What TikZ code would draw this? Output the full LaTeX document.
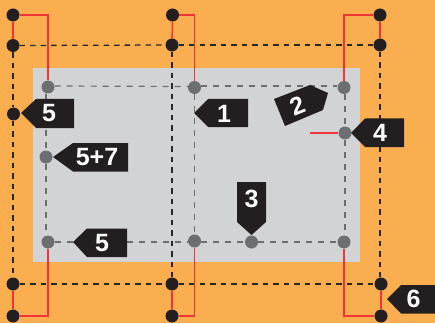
\documentclass[tikz,border=0pt]{standalone}
\usepackage{fontspec}
\setmainfont{Liberation Sans}
\definecolor{bgorange}{HTML}{FBAE4F}
\definecolor{panel}{HTML}{D1D3D4}
\definecolor{ink}{HTML}{231F20}
\definecolor{pin}{HTML}{6D6E71}
\definecolor{wire}{HTML}{EF3535}
\tikzset{
  blackdot/.style={circle,fill=ink,inner sep=0pt,minimum size=13pt},
  greydot/.style={circle,fill=pin,inner sep=0pt,minimum size=13pt},
  wireline/.style={draw=wire,line width=1.4pt},
  darkdash/.style={draw=ink!90!pin,line width=1.3pt,dash pattern=on 5.5pt off 5pt},
  greydash/.style={draw=pin,line width=1.2pt,dash pattern=on 6pt off 6pt},
  tag/.style={fill=ink,draw=none},
  taglabel/.style={text=white,font=\bfseries\fontsize{25}{25}\selectfont,inner sep=0pt}
}
\begin{document}
\begin{tikzpicture}[x=1pt,y=-1pt]
\useasboundingbox (0,0) rectangle (435,323);
\fill[bgorange] (0,0) rectangle (435,323);
\fill[panel] (33,68) rectangle (360,262);
% terminals
\node[blackdot] (a1) at (13,15) {};
\node[blackdot] (a2) at (13,45.5) {};
\node[blackdot] (a3) at (13.5,114) {};
\node[blackdot] (a4) at (13,284) {};
\node[blackdot] (a5) at (13,316) {};
\node[blackdot] (b1) at (172.5,15) {};
\node[blackdot] (b2) at (172,45) {};
\node[blackdot] (b4) at (172,284) {};
\node[blackdot] (b5) at (172,316) {};
\node[blackdot] (c1) at (380,15) {};
\node[blackdot] (c2) at (380,45) {};
\node[blackdot] (c4) at (381,284) {};
\node[blackdot] (c5) at (381,316) {};
\node[greydot] (p1) at (48,87) {};
\node[greydot] (p2) at (46,157) {};
\node[greydot] (p3) at (48,242) {};
\node[greydot] (q1) at (194.5,87.5) {};
\node[greydot] (q3) at (194.5,241) {};
\node[greydot] (r1) at (344,87.5) {};
\node[greydot] (r2) at (345,133) {};
\node[greydot] (r3) at (344,242) {};
\node[greydot] (s3) at (251.5,242) {};
\coordinate (stub) at (310,133);
% dark dashed lines
\path[darkdash] (a2.east) -- (b2.west);
\path[darkdash] (b2.east) -- (c2.west);
\path[darkdash] (a4.east) -- (b4.west);
\path[darkdash] (b4.east) -- (c4.west);
\path[darkdash] (a2.south) -- (a2 |- a3.north);
\path[darkdash] (a4 |- a3.south) -- (a4.north);
\path[darkdash] (b2.south) -- (b4.north);
\path[darkdash] (c2.south) -- (c2 |- c4.north);
% grey dashed lines
\path[greydash] ([yshift=1pt]p1.east) -- ([yshift=1pt]q1.west);
\path[greydash] ([yshift=1.5pt]q1.east) -- ([yshift=1.5pt]r1.west);
\path[greydash] (r2 |- r1.south) -- (r2.north);
\path[greydash] (r2.south) -- (r2 |- r3.north);
\path[greydash] (p3.east) -- (p3.east -| q3.west);
\path[greydash] (q3.east |- s3) -- (s3.west);
\path[greydash] (s3.east) -- (r3.west);
\path[greydash] (p2 |- p1.south) -- (p2.north);
\path[greydash] (p2.south) -- (p2 |- p3.north);
\path[greydash] (q1.south) -- (q3.north);
% red wires
\path[wireline] (a1) -- (a2);
\path[wireline] (a1) -| (p1);
\path[wireline] (b1) -- (b2);
\path[wireline] (b1) -| (q1);
\path[wireline] (c1) -- (c2);
\path[wireline] (c1) -| (r1);
\path[wireline] (a4) -- (a5);
\path[wireline] (a5) -| (p3);
\path[wireline] (b4) -- (b5);
\path[wireline] (b5) -| (q3);
\path[wireline] (c4) -- (c5);
\path[wireline] (c5) -| (r3);
\path[wireline] (stub) -- (r2);
% callouts
\fill[tag] (21,113) -- (36,99) -- (74,99) -- (74,128) -- (36,128) -- cycle;
\node[taglabel] (t5a) at (49,113.5) {5};
\fill[tag] (53,157) -- (73,143) -- (128,143) -- (128,171.5) -- (73,171.5) -- cycle;
\node[taglabel] (t57) at (97,157) {5+7};
\fill[tag] (194,113) -- (208,99) -- (248,99) -- (248,127) -- (208,127) -- cycle;
\node[taglabel] (t1) at (224,113.5) {1};
\fill[tag] (274,99) -- (310,85) -- (328,93) -- (323,110) -- (285,126) -- cycle;
\node[taglabel,rotate=22] (t2) at (298,106) {2};
\fill[tag] (351,133) -- (365,118.5) -- (404,118.5) -- (404,147) -- (365,147) -- cycle;
\node[taglabel] (t4) at (380,133) {4};
\fill[tag] (237,182) -- (266,182) -- (266,222) -- (251.5,235) -- (237,222) -- cycle;
\node[taglabel] (t3) at (251.5,198.5) {3};
\fill[tag] (73,242) -- (87,228.5) -- (127,228.5) -- (127,257) -- (87,257) -- cycle;
\node[taglabel] (t5b) at (102,243) {5};
\fill[tag] (387,299) -- (401,285) -- (435,285) -- (435,313.5) -- (401,313.5) -- cycle;
\node[taglabel] (t6) at (413.5,299) {6};
\end{tikzpicture}
\end{document}
